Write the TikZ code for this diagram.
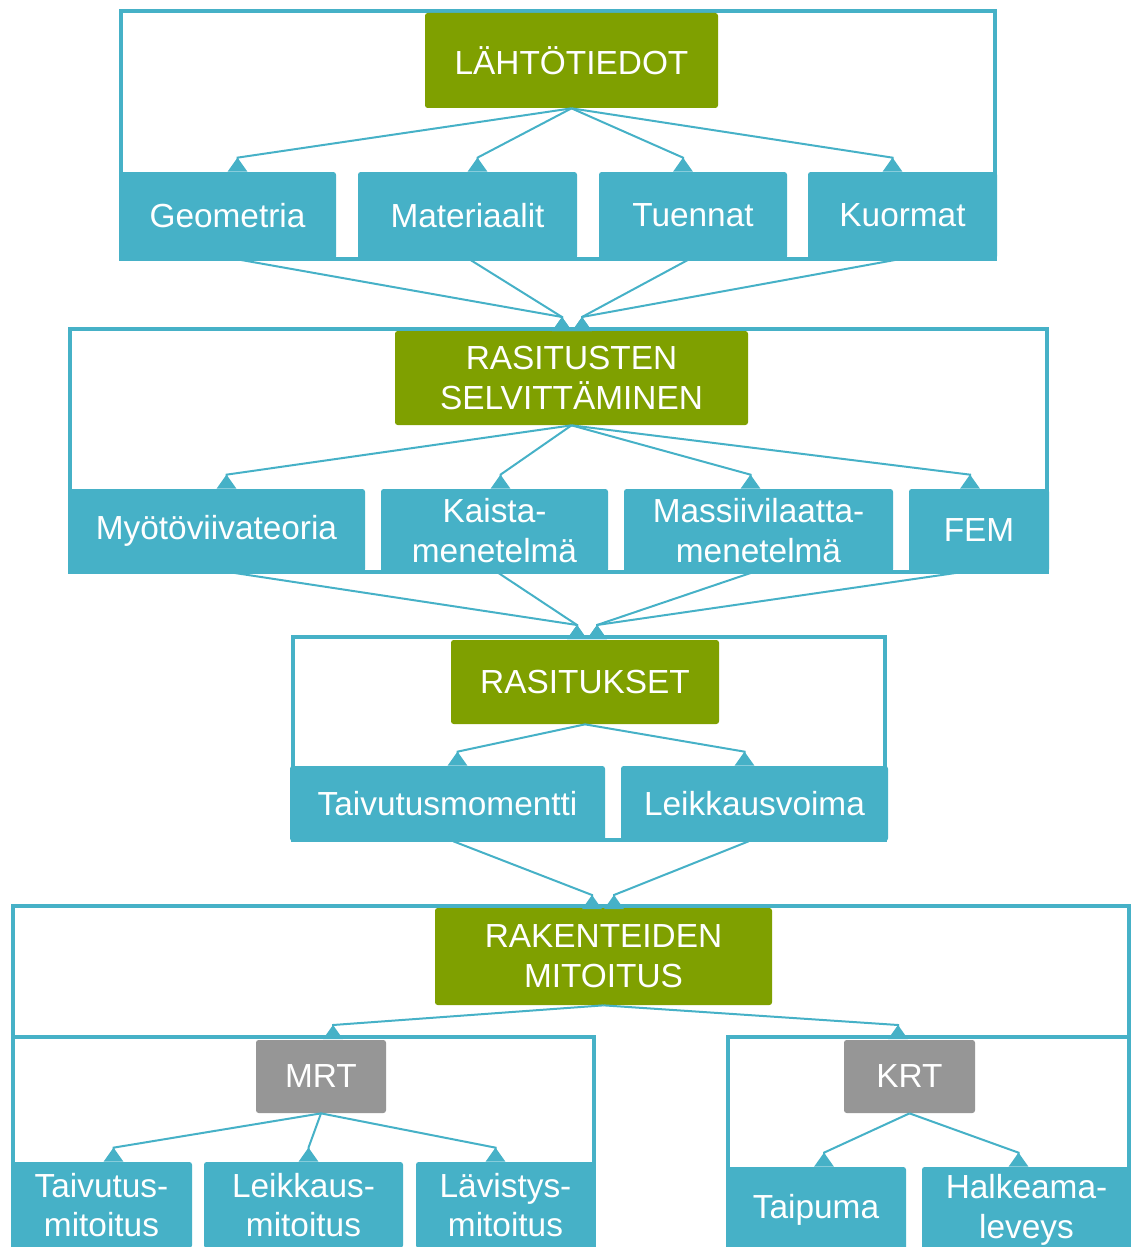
\documentclass[tikz,border=0pt]{standalone}
\usepackage{fontspec}
\setmainfont{Liberation Sans}
\usetikzlibrary{arrows.meta,calc}

\definecolor{aqua}{HTML}{46B1C7}
\definecolor{oliv}{HTML}{7FA000}
\definecolor{grau}{HTML}{969696}

\def\px{0.02cm}

\begin{document}
\begin{tikzpicture}[x=\px,y=-\px,
	box/.style={inner sep=0pt,rounded corners=1.5pt,text=white,align=center,
		font=\fontsize{19}{22.7}\selectfont},
	kopf/.style={box,fill=oliv},
	blatt/.style={box,fill=aqua},
	mitte/.style={box,fill=grau},
	rahmen/.style={draw=aqua,line width=0.09cm},
	pfeil/.style={draw=aqua,line width=0.04cm,
		-{Triangle[reversed,width=11pt,length=8pt]}}]

\useasboundingbox (0,0) rectangle (1131,1247);
\clip (0,0) rectangle (1131,1247);

% Lähtötiedot
\draw[rahmen] (121,11) rectangle (995,259);
\coordinate (rs1) at (562,331);
\coordinate (rs2) at (582,331);

\node (ltd) at (571.5,60.5) [kopf,minimum width=293*\px,minimum height=95*\px] {LÄHTÖTIEDOT};
\node (geo) at (227.5,215.5) [blatt,minimum width=217*\px,minimum height=87*\px] {Geometria};
\node (mat) at (467.5,215.5) [blatt,minimum width=219*\px,minimum height=87*\px] {Materiaalit};
\node (tue) at (693,215.5) [blatt,minimum width=188*\px,minimum height=87*\px] {Tuennat};
\node (kuo) at (902.5,215.5) [blatt,minimum width=189*\px,minimum height=87*\px] {Kuormat};

\draw[pfeil] (ltd.south) -- ($(geo.north)+(10,-14)$) -- ($(geo.north)+(10,0)$);
\draw[pfeil] (ltd.south) -- ($(mat.north)+(10,-14)$) -- ($(mat.north)+(10,0)$);
\draw[pfeil] (ltd.south) -- ($(tue.north)+(-10,-14)$) -- ($(tue.north)+(-10,0)$);
\draw[pfeil] (ltd.south) -- ($(kuo.north)+(-10,-14)$) -- ($(kuo.north)+(-10,0)$);

% Rasitusten selvittäminen
\draw[rahmen] (70,329) rectangle (1047,572);
\coordinate (rt1) at (577,639);
\coordinate (rt2) at (597,639);

\node (sel) at (571.5,378) [kopf,minimum width=353*\px,minimum height=94*\px] {RASITUSTEN\\SELVITTÄMINEN};
\node (myo) at (216.5,530.5) [blatt,minimum width=297*\px,minimum height=83*\px] {Myötöviivateoria};
\node (kai) at (494.5,530.5) [blatt,minimum width=227*\px,minimum height=83*\px] {Kaista-\\menetelmä};
\node (mas) at (758.5,530.5) [blatt,minimum width=269*\px,minimum height=83*\px] {Massiivilaatta-\\menetelmä};
\node (fem) at (979,530.5) [blatt,minimum width=140*\px,minimum height=83*\px] {FEM};

\draw[pfeil] ($(geo.south)+(10,0)$) -- ($(rs1)+(0,-14)$) -- (rs1);
\draw[pfeil] ($(mat.south)+(2,0)$) -- ($(rs1)+(0,-14)$) -- (rs1);
\draw[pfeil] ($(tue.south)+(-4,0)$) -- ($(rs2)+(0,-14)$) -- (rs2);
\draw[pfeil] ($(kuo.south)+(-4,0)$) -- ($(rs2)+(0,-14)$) -- (rs2);

\draw[pfeil] (sel.south) -- ($(myo.north)+(10,-14)$) -- ($(myo.north)+(10,0)$);
\draw[pfeil] (sel.south) -- ($(kai.north)+(6,-14)$) -- ($(kai.north)+(6,0)$);
\draw[pfeil] (sel.south) -- ($(mas.north)+(-8,-14)$) -- ($(mas.north)+(-8,0)$);
\draw[pfeil] (sel.south) -- ($(fem.north)+(-9,-14)$) -- ($(fem.north)+(-9,0)$);

% Rasitukset
\draw[rahmen] (293,637) rectangle (885,840);
\coordinate (rm1) at (592,909);
\coordinate (rm2) at (614,909);

\node (ras) at (585,682) [kopf,minimum width=268*\px,minimum height=84*\px] {RASITUKSET};
\node (tmo) at (447.5,803.5) [blatt,minimum width=315*\px,minimum height=75*\px] {Taivutusmomentti};
\node (lvo) at (754.5,803.5) [blatt,minimum width=267*\px,minimum height=75*\px] {Leikkausvoima};

\draw[pfeil] ($(myo.south)+(14,0)$) -- ($(rt1)+(0,-14)$) -- (rt1);
\draw[pfeil] ($(kai.south)+(3,0)$) -- ($(rt1)+(0,-14)$) -- (rt1);
\draw[pfeil] ($(mas.south)+(-6,0)$) -- ($(rt2)+(0,-14)$) -- (rt2);
\draw[pfeil] ($(fem.south)+(-19,0)$) -- ($(rt2)+(0,-14)$) -- (rt2);

\draw[pfeil] (ras.south) -- ($(tmo.north)+(10,-14)$) -- ($(tmo.north)+(10,0)$);
\draw[pfeil] (ras.south) -- ($(lvo.north)+(-10,-14)$) -- ($(lvo.north)+(-10,0)$);

% Rakenteiden mitoitus
\draw[rahmen] (13,1040) |- (1129,906) -- (1129,1040);
\draw[rahmen,fill=white] (13,1037) rectangle (594,1270);
\draw[rahmen,fill=white] (728,1037) rectangle (1129,1270);
\coordinate (mr) at (333,1039);
\coordinate (kr) at (898,1039);

\node (mit) at (603.5,956.5) [kopf,minimum width=337*\px,minimum height=97*\px] {RAKENTEIDEN\\MITOITUS};

\draw[pfeil] ($(tmo.south)+(6,0)$) -- ($(rm1)+(0,-14)$) -- (rm1);
\draw[pfeil] ($(lvo.south)+(-6,0)$) -- ($(rm2)+(0,-14)$) -- (rm2);

\draw[pfeil] (mit.south) -- ($(mr)+(0,-14)$) -- (mr);
\draw[pfeil] (mit.south) -- ($(kr)+(0,-14)$) -- (kr);

% MRT
\node (mrt) at (321,1076.5) [mitte,minimum width=130*\px,minimum height=73*\px] {MRT};
\node (tmi) at (101.5,1205) [blatt,minimum width=181*\px,minimum height=86*\px] {Taivutus-\\mitoitus};
\node (lmi) at (303.5,1205) [blatt,minimum width=199*\px,minimum height=86*\px] {Leikkaus-\\mitoitus};
\node (lav) at (505.5,1205) [blatt,minimum width=179*\px,minimum height=86*\px] {Lävistys-\\mitoitus};

\draw[pfeil] (mrt.south) -- ($(tmi.north)+(12,-14)$) -- ($(tmi.north)+(12,0)$);
\draw[pfeil] (mrt.south) -- ($(lmi.north)+(5,-14)$) -- ($(lmi.north)+(5,0)$);
\draw[pfeil] (mrt.south) -- ($(lav.north)+(-10,-14)$) -- ($(lav.north)+(-10,0)$);

% KRT
\node (krt) at (909.5,1076.5) [mitte,minimum width=131*\px,minimum height=73*\px] {KRT};
\node (tai) at (816,1210) [blatt,minimum width=180*\px,minimum height=86*\px] {Taipuma};
\node (hal) at (1026.5,1210) [blatt,minimum width=209*\px,minimum height=86*\px] {Halkeama-\\leveys};

\draw[pfeil] (krt.south) -- ($(tai.north)+(8,-14)$) -- ($(tai.north)+(8,0)$);
\draw[pfeil] (krt.south) -- ($(hal.north)+(-8,-14)$) -- ($(hal.north)+(-8,0)$);

\end{tikzpicture}
\end{document}
